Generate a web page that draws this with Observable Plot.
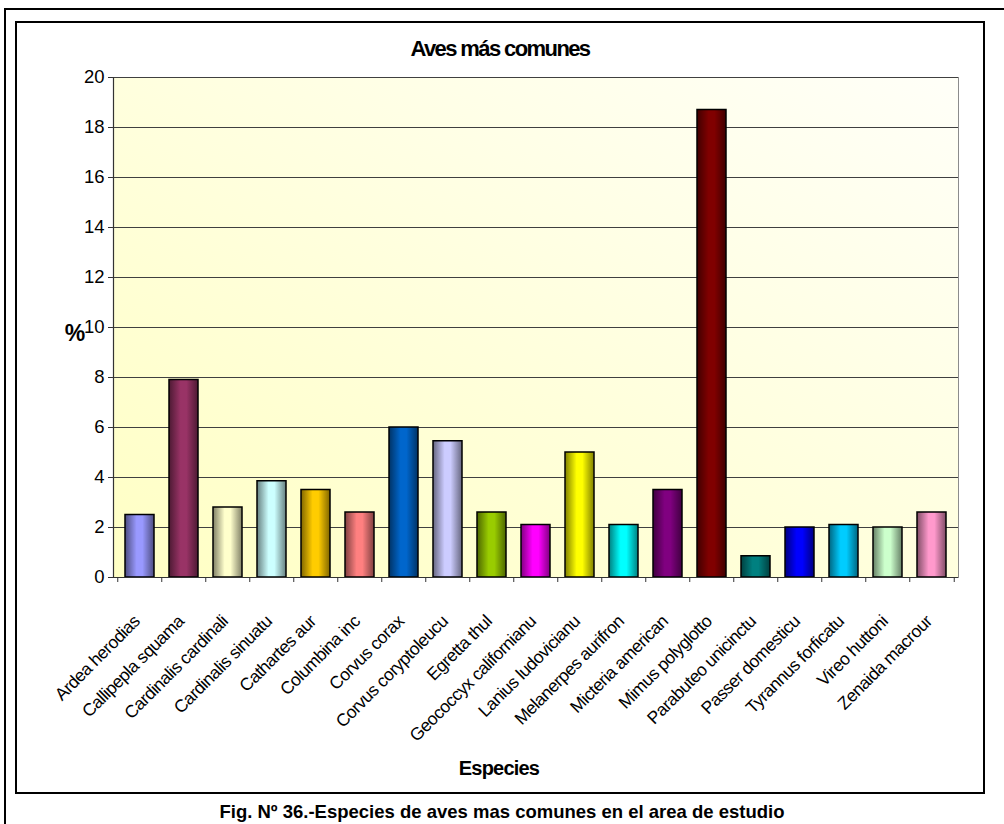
<!DOCTYPE html>
<html>
<head>
<meta charset="utf-8">
<script src="https://cdn.jsdelivr.net/npm/d3@7"></script>
<script src="https://cdn.jsdelivr.net/npm/@observablehq/plot@0.6"></script>
<style>
html,body{margin:0;padding:0;width:1004px;height:824px;overflow:hidden;background:#fff;font-family:Arial,"Liberation Sans",sans-serif;position:relative}
#outer{position:absolute;left:4px;top:8px;width:1100px;height:900px;border:2px solid #000;box-sizing:border-box}
#inner{position:absolute;left:15px;top:21px;width:970px;height:773px;border:2px solid #000;box-sizing:border-box;background:#fff}
#title{position:absolute;left:15px;width:970px;top:36px;text-align:center;font-weight:bold;font-size:22px;letter-spacing:-1.6px;color:#000}
#chart{position:absolute;left:0;top:60px}
#caption{position:absolute;left:0;width:1004px;top:801px;text-align:center;font-weight:bold;font-size:18.5px;color:#000;white-space:nowrap}
#chart g[aria-label="x-axis tick label"] text{letter-spacing:-0.5px}
#chart g[aria-label="text"] text{letter-spacing:-0.8px}
</style>
</head>
<body>
<div id="outer"></div>
<div id="inner"></div>
<div id="title">Aves más comunes</div>
<div id="chart"></div>
<div id="caption">Fig. Nº 36.-Especies de aves mas comunes en el area de estudio</div>
<script>
const species = ["Ardea herodias","Callipepla squamata","Cardinalis cardinalis","Cardinalis sinuatus","Cathartes aura","Columbina inca","Corvus corax","Corvus coryptoleucus","Egretta thula","Geococcyx californianus","Lanius ludovicianus","Melanerpes aurifrons","Micteria americana","Mimus polyglottos","Parabuteo unicinctus","Passer domesticus","Tyrannus forficatus","Vireo huttoni","Zenaida macroura"];
const tickLabels = ["Ardea herodias","Callipepla squama","Cardinalis cardinali","Cardinalis sinuatu","Cathartes aur","Columbina inc","Corvus corax","Corvus coryptoleucu","Egretta thul","Geococcyx californianu","Lanius ludovicianu","Melanerpes aurifron","Micteria american","Mimus polyglotto","Parabuteo unicinctu","Passer domesticu","Tyrannus forficatu","Vireo huttoni","Zenaida macrour"];
const values = [2.5, 7.9, 2.8, 3.85, 3.5, 2.6, 6.0, 5.45, 2.6, 2.1, 5.0, 2.1, 3.5, 18.7, 0.85, 2.0, 2.1, 2.0, 2.6];
const colors = ["#9999FF","#993366","#FFFFCC","#CCFFFF","#FFCC00","#FF8080","#0066CC","#CCCCFF","#99CC00","#FF00FF","#FFFF00","#00FFFF","#800080","#800000","#008080","#0000FF","#00CCFF","#CCFFCC","#FF99CC"];
const yTicks = [0,2,4,6,8,10,12,14,16,18,20];

const data = species.map((s, i) => ({species: s, value: values[i], grad: `url(#g${i})`}));
const labelOf = new Map(species.map((s, i) => [s, tickLabels[i]]));

const W = 1004, H = 730, mL = 113, mR = 46, mT = 17, mB = 213;
const step = (W - mL - mR) / species.length;
const font = "Arial, 'Liberation Sans', sans-serif";

const plot = Plot.plot({
  width: W, height: H,
  marginLeft: mL, marginRight: mR, marginTop: mT, marginBottom: mB,
  style: {fontFamily: font, background: "transparent", color: "#000", overflow: "visible"},
  x: {domain: species, paddingInner: 0.34, paddingOuter: 0.17, label: null},
  y: {domain: [0, 20], ticks: yTicks, label: null},
  color: {type: "identity"},
  marks: [
    Plot.frame({fill: "url(#bg)", stroke: "#8c8c8c"}),
    Plot.gridY(yTicks, {stroke: "#404040", strokeOpacity: 1, strokeWidth: 1}),
    Plot.barY(data, {x: "species", y: "value", fill: "grad", stroke: "#000", strokeWidth: 1.5}),
    Plot.ruleY([0], {stroke: "#333", strokeWidth: 1.2}),
    Plot.frame({anchor: "left", stroke: "#333", strokeWidth: 1.2}),
    Plot.ruleX(species, {x: d => d, dx: -step / 2, y1: 0, y2: -0.2, stroke: "#333", clip: false}),
    Plot.ruleX([species[species.length - 1]], {x: d => d, dx: step / 2, y1: 0, y2: -0.2, stroke: "#333", clip: false}),
    Plot.axisY({ticks: yTicks, tickSize: 5, tickPadding: 4, fontSize: 18.5, stroke: "#333", label: null}),
    Plot.axisX({tickSize: 0, tickRotate: -45, tickPadding: 41, dx: -3, fontSize: 17.5, tickFormat: d => labelOf.get(d), label: null}),
    Plot.text(["%"], {frameAnchor: "left", text: d => d, dx: -39, dy: 6, fontSize: 23, fontWeight: "bold", textAnchor: "middle"}),
    Plot.text(["Especies"], {frameAnchor: "bottom", text: d => d, dx: -37, dy: 197, fontSize: 20, fontWeight: "bold", textAnchor: "middle"})
  ]
});

// gradients for bars and plot background
const svg = d3.select(plot);
const defs = svg.insert("defs", ":first-child");
const bg = defs.append("linearGradient").attr("id", "bg").attr("x1", 0).attr("y1", 1).attr("x2", 1).attr("y2", 0);
bg.append("stop").attr("offset", "0%").attr("stop-color", "#ffffc4");
bg.append("stop").attr("offset", "100%").attr("stop-color", "#fffff8");
colors.forEach((c, i) => {
  const base = d3.rgb(c);
  const dark = d3.rgb(base.r * 0.5, base.g * 0.5, base.b * 0.5);
  const g = defs.append("linearGradient").attr("id", `g${i}`).attr("x1", 0).attr("y1", 0).attr("x2", 1).attr("y2", 0);
  [[0, dark], [0.4, base], [0.6, base], [1, dark]].forEach(([o, col]) =>
    g.append("stop").attr("offset", o).attr("stop-color", col.formatHex()));
});

document.getElementById("chart").appendChild(plot);
</script>
</body>
</html>
